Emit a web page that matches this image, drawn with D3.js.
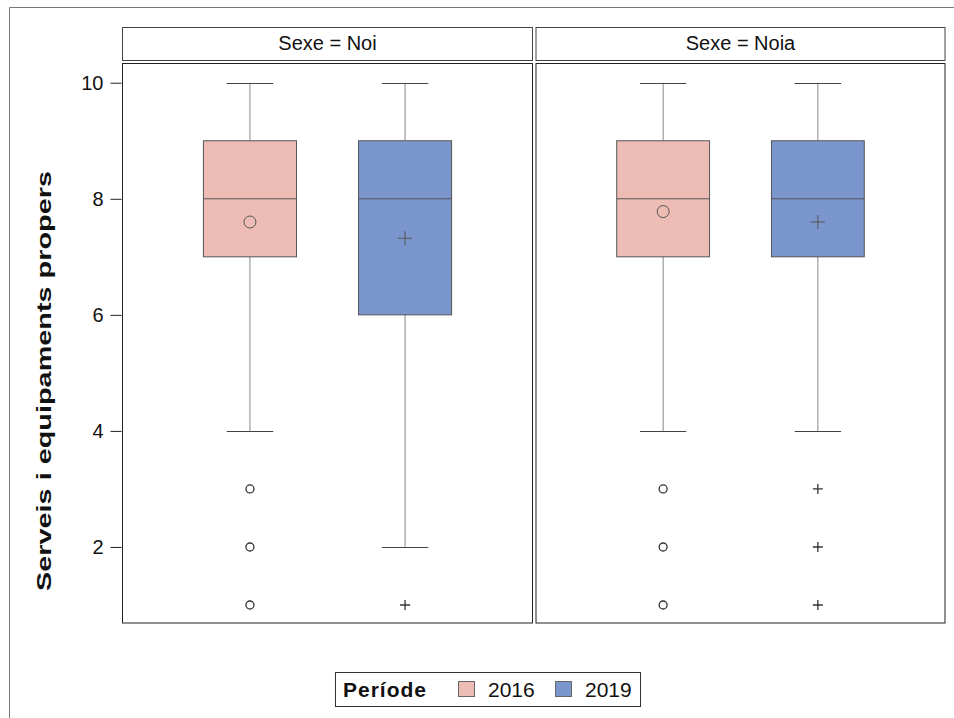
<!DOCTYPE html>
<html><head><meta charset="utf-8">
<script src="https://cdn.jsdelivr.net/npm/d3@7"></script>
<style>body{margin:0;background:#fff}svg{display:block;font-family:"Liberation Sans",Arial,sans-serif}</style>
</head><body><svg id="c" width="954" height="718"></svg>
<script>
const panels = ["Noi", "Noia"];
const periods = ["2016", "2019"];
const colors = ["#EDBCB5", "#7B96CC"];
// [panel][period]
const whiskerLow = [[4, 2], [4, 4]];
const q1 = [[7, 6], [7, 7]];
const median = [[8, 8], [8, 8]];
const q3 = [[9, 9], [9, 9]];
const whiskerHigh = [[10, 10], [10, 10]];
const means = [[7.6, 7.32], [7.78, 7.6]];
const outliers = [[[3, 2, 1], [1]], [[3, 2, 1], [3, 2, 1]]];
const yTicks = [2, 4, 6, 8, 10];

(function(){
const svg = d3.select("#c");
svg.append("path").attr("d","M9.5,718 V7.5 H954").attr("fill","none").attr("stroke","#777").attr("stroke-width",1);

const plotTop = 63, plotBottom = 623;
const y = d3.scaleLinear().domain([0.69, 10.34]).range([plotBottom, plotTop]);
const panelX = [[122, 533], [535.5, 945.5]];

const ax = svg.append("g").attr("transform", "translate(121.5,0)")
  .call(d3.axisLeft(y).tickValues(yTicks).tickSize(11).tickPadding(7).tickFormat(d3.format("d")));
ax.select(".domain").remove();
ax.selectAll("line").attr("stroke","#222");
ax.selectAll("text").attr("font-size", 20).attr("fill","#111").attr("font-family","Liberation Sans, Arial, sans-serif");

svg.append("text").attr("transform","translate(51,381) rotate(-90)").attr("text-anchor","middle")
  .attr("font-size",21).attr("font-weight","bold").attr("fill","#111")
  .attr("textLength",420).attr("lengthAdjust","spacingAndGlyphs")
  .text("Serveis i equipaments propers");

panels.forEach((p, pi) => {
  const [x0, x1] = panelX[pi];
  const g = svg.append("g");
  g.append("rect").attr("x", x0 + 0.5).attr("y", 27.5).attr("width", x1 - x0 - 1).attr("height", 33)
    .attr("fill","#fff").attr("stroke","#444");
  g.append("text").attr("x", (x0 + x1) / 2).attr("y", 49.5).attr("text-anchor","middle")
    .attr("font-size",20).attr("fill","#111").text("Sexe = " + p);
  g.append("rect").attr("x", x0 + 0.5).attr("y", plotTop + 0.5).attr("width", x1 - x0 - 1).attr("height", plotBottom - plotTop - 0.5)
    .attr("fill","none").attr("stroke","#222");
  const x = d3.scaleBand().domain(periods).range([x0, x1]).paddingInner(0.4).paddingOuter(0.525);
  periods.forEach((per, k) => {
    const cx = x(per) + x.bandwidth() / 2;
    const bw = x.bandwidth();
    const hw = bw / 4;
    g.append("line").attr("x1", cx).attr("x2", cx).attr("y1", y(whiskerHigh[pi][k])).attr("y2", y(q3[pi][k])).attr("stroke","#888");
    g.append("line").attr("x1", cx).attr("x2", cx).attr("y1", y(q1[pi][k])).attr("y2", y(whiskerLow[pi][k])).attr("stroke","#888");
    [whiskerHigh[pi][k], whiskerLow[pi][k]].forEach(v => {
      g.append("line").attr("x1", cx - hw).attr("x2", cx + hw).attr("y1", Math.round(y(v)) + 0.5).attr("y2", Math.round(y(v)) + 0.5).attr("stroke","#444");
    });
    g.append("rect").attr("x", x(per)).attr("y", y(q3[pi][k])).attr("width", bw).attr("height", y(q1[pi][k]) - y(q3[pi][k]))
      .attr("fill", colors[k]).attr("stroke","#555");
    g.append("line").attr("x1", x(per)).attr("x2", x(per) + bw).attr("y1", y(median[pi][k])).attr("y2", y(median[pi][k])).attr("stroke","#555");
    const my = y(means[pi][k]);
    if (k === 0) {
      g.append("circle").attr("cx", cx).attr("cy", my).attr("r", 6).attr("fill","none").attr("stroke","#555");
    } else {
      g.append("path").attr("d", `M${cx-7},${my}H${cx+7}M${cx},${my-7}V${my+7}`).attr("stroke","#555");
    }
    outliers[pi][k].forEach(v => {
      const oy = y(v);
      if (k === 0) {
        g.append("circle").attr("cx", cx).attr("cy", oy).attr("r", 4).attr("fill","none").attr("stroke","#333").attr("stroke-width",1.3);
      } else {
        g.append("path").attr("d", `M${cx-5},${oy}H${cx+5}M${cx},${oy-5}V${oy+5}`).attr("stroke","#333").attr("stroke-width",1.3);
      }
    });
  });
});

const lg = svg.append("g");
lg.append("rect").attr("x",335.5).attr("y",672.5).attr("width",305).attr("height",34).attr("fill","#fff").attr("stroke","#333");
lg.append("text").attr("x",343).attr("y",697).attr("font-size",21).attr("font-weight","bold").attr("fill","#111")
  .attr("textLength",83).attr("lengthAdjust","spacing").text("Període");
const legX = [458, 555];
periods.forEach((per, k) => {
  lg.append("rect").attr("x", legX[k] + 0.5).attr("y", 681.5).attr("width", 16).attr("height", 15)
    .attr("fill", colors[k]).attr("stroke","#666");
  lg.append("text").attr("x", legX[k] + 30).attr("y", 697).attr("font-size",21).attr("fill","#111").text(per);
});
})();
</script></body></html>
